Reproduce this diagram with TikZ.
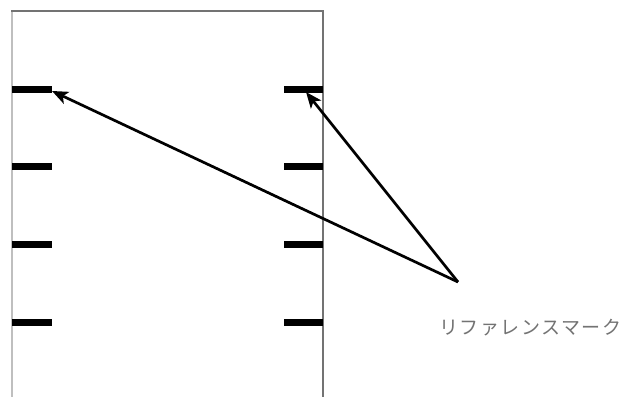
\documentclass[tikz,border=0pt]{standalone}
\usepackage{fontspec}
\newfontfamily\jpfont[LetterSpace=8]{Noto Sans CJK JP}
\usetikzlibrary{arrows.meta}
\begin{document}
\begin{tikzpicture}[x=1pt,y=-1pt,
  frame/.style={draw=black!55,line width=2pt},
  tick/.style={line width=7pt,black},
  pointer/.style={line width=2.7pt,-{Stealth[length=16pt,width=13pt,inset=4pt]}},
  lbl/.style={text=black!55,font=\jpfont\fontsize{19}{22}\selectfont,inner sep=0pt,anchor=west}]
\useasboundingbox (0,0) rectangle (628,396);
\fill[white] (0,0) rectangle (628,396);
\draw[frame] (12,402) -- (12,11) -- (323,11) -- (323,402);
\draw[black!25,line width=2.5pt] (12,402) -- (12,12);
\foreach \y/\n in {89/1,166.7/2,244.3/3,322/4}{
  \coordinate (L\n) at (12,\y);
  \coordinate (Le\n) at (52,\y);
  \coordinate (R\n) at (323,\y);
  \coordinate (Re\n) at (284,\y);
  \draw[tick] (L\n) -- (Le\n);
  \draw[tick] (Re\n) -- (R\n);
}
\coordinate (src) at (458,282);
\coordinate (tipL) at (52,91);
\coordinate (tipR) at (306,92);
\draw[pointer] (src) -- (tipL);
\draw[pointer] (src) -- (tipR);
\node[lbl] (label) at (439,328) {リファレンスマーク};
\end{tikzpicture}
\end{document}
